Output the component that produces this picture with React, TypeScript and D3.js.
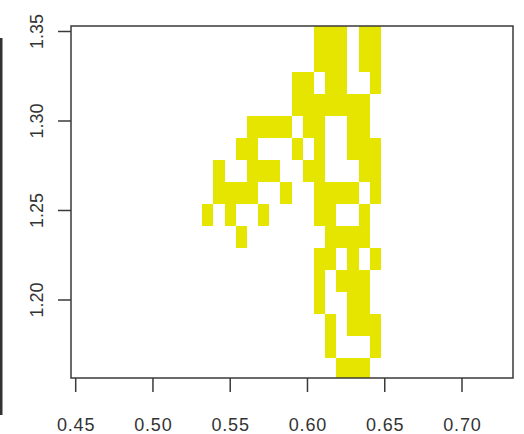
import React from "react";
import * as d3 from "d3";

// axis ticks
const xTicks = [0.45, 0.5, 0.55, 0.6, 0.65, 0.7];
const yTicks = [1.2, 1.25, 1.3, 1.35];
const xTickLabels = ["0.45", "0.50", "0.55", "0.60", "0.65", "0.70"];
const yTickLabels = ["1.20", "1.25", "1.30", "1.35"];

// plot limits (data units)
const xLimits = [0.44696, 0.733];
const yLimits = [1.15642, 1.35307];

// image grid: left break of first column, column width, bottom break of last row, row height
const gridX0 = 0.51737;
const gridDX = 0.007235;
const gridY0 = 1.15547;
const gridDY = 0.012263;

// image cells, top row first ("#" = filled, "." = NA)
const zRows = [
  "............###.##..",
  "............###.##..",
  "............###.##..",
  "..........##.##..#..",
  "..........#######...",
  "......####.##..##...",
  ".....##...#.#..###..",
  "...#..###..##...##..",
  "...####..#..####.#..",
  "..#.#..#....##..#...",
  ".....#.......####...",
  "............##.#.#..",
  "............#.###...",
  "............#..##...",
  ".............#.###..",
  ".............#...#..",
  "..............###...",
];

const W = 524;
const H = 434;
const PL = 71, PR = 513, PT = 26, PB = 378;
const FILL = "#E5E500";
const INK = "#3a3a3a";
const FONT = "'Liberation Sans', Arial, Helvetica, sans-serif";

export default function App() {
  const x = d3.scaleLinear().domain(xLimits).range([PL, PR]);
  const y = d3.scaleLinear().domain(yLimits).range([PB, PT]);
  const nRows = zRows.length;

  const cells: { k: number; j: number }[] = [];
  zRows.forEach((row, i) => {
    const j = nRows - 1 - i;
    row.split("").forEach((ch, k) => {
      if (ch === "#") cells.push({ k, j });
    });
  });

  return (
    <svg
      width={W}
      height={H}
      style={{ position: "absolute", left: 0, top: 0, background: "#fff" }}
    >
      <rect x={0} y={0} width={W} height={H} fill="#fff" />
      <defs>
        <clipPath id="plotClip">
          <rect x={PL} y={PT} width={PR - PL} height={PB - PT} />
        </clipPath>
      </defs>
      <rect x={0} y={38} width={2.5} height={377} fill="#333" />
      <g clipPath="url(#plotClip)">
        {cells.map(({ k, j }) => {
          const x0 = x(gridX0 + k * gridDX);
          const x1 = x(gridX0 + (k + 1) * gridDX);
          const yTop = y(gridY0 + (j + 1) * gridDY);
          const yBot = y(gridY0 + j * gridDY);
          return (
            <rect
              key={`${k}-${j}`}
              x={x0}
              y={yTop}
              width={x1 - x0}
              height={yBot - yTop}
              fill={FILL}
              shapeRendering="crispEdges"
            />
          );
        })}
      </g>
      <rect
        x={PL}
        y={PT}
        width={PR - PL}
        height={PB - PT}
        fill="none"
        stroke={INK}
        strokeWidth={1.5}
      />
      {xTicks.map((t, i) => (
        <g key={`xt${i}`}>
          <line x1={x(t)} x2={x(t)} y1={PB} y2={PB + 14} stroke={INK} strokeWidth={1.5} />
          <text
            x={x(t) + 0.4}
            y={431}
            textAnchor="middle"
            fontFamily={FONT}
            fontSize={18}
            letterSpacing={0.8}
            fill="#333"
          >
            {xTickLabels[i]}
          </text>
        </g>
      ))}
      {yTicks.map((t, i) => (
        <g key={`yt${i}`}>
          <line x1={PL - 13} x2={PL} y1={y(t)} y2={y(t)} stroke={INK} strokeWidth={1.5} />
          <text
            transform={`translate(43,${y(t)}) rotate(-90)`}
            textAnchor="middle"
            fontFamily={FONT}
            fontSize={18}
            fill="#333"
          >
            {yTickLabels[i]}
          </text>
        </g>
      ))}
    </svg>
  );
}
